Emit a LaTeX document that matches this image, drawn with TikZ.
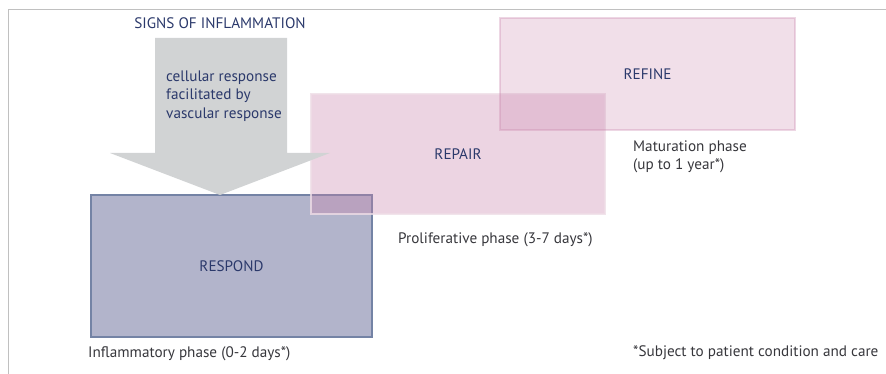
\documentclass[tikz,border=0pt]{standalone}
\usepackage{fontspec}
\setmainfont{PT Sans}
\usetikzlibrary{positioning}
\definecolor{navytext}{RGB}{43,57,107}
\definecolor{captext}{RGB}{55,55,60}
\definecolor{framegray}{RGB}{192,192,192}
\definecolor{arrowgray}{RGB}{209,211,212}
\definecolor{respondfill}{RGB}{178,180,203}
\definecolor{respondline}{RGB}{116,131,165}
\definecolor{phasepink}{RGB}{200,130,170}
\definecolor{repairline}{RGB}{238,221,230}
\tikzset{
  phasebox/.style={rectangle, inner sep=0pt, font=\fontsize{15.2}{18}\selectfont, text=navytext},
  caption/.style={inner sep=0pt, font=\fontsize{15.2}{18}\selectfont, text=captext, align=left},
}
\begin{document}
\begin{tikzpicture}[x=1pt,y=-1pt]
\useasboundingbox (0,0) rectangle (886,374);

%Frame
\draw [framegray, line width=1pt] (8,374) -- (8,10) -- (886,10);

%Shape: Rectangle RESPOND
\node [phasebox, fill=respondfill, draw=respondline, line width=2pt, minimum width=281pt, minimum height=142pt] (respond) at (231.5,266) {RESPOND};

%Shape: Rectangle REPAIR
\node [phasebox, fill=phasepink, fill opacity=0.34, text opacity=1, draw=repairline, draw opacity=0.8, line width=1.5pt, minimum width=294pt, minimum height=120pt] (repair) at (458,154) {REPAIR};

%Shape: Rectangle REFINE
\node [phasebox, fill=phasepink, fill opacity=0.26, text opacity=1, draw=phasepink, draw opacity=0.32, line width=2pt, minimum width=295pt, minimum height=112pt] (refine) at (647.5,74) {REFINE};

%Shape: Arrow
\coordinate (tip) at (220,195);
\fill [arrowgray] (155,38) -- (287,38) -- (287,153) -- (330,153) -- (tip) -- (110,153) -- (155,153) -- cycle ;

% Text Node
\node [inner sep=0pt, font=\fontsize{15.2}{18}\selectfont, text=navytext] (signs) at (220,23) {SIGNS OF INFLAMMATION};
% Text Node
\node [inner sep=0pt, font=\fontsize{15.2}{18.5}\selectfont, text=navytext, align=left, anchor=west] (cellular) at (166,96) {cellular response\\facilitated by\\vascular response};

% Text Node
\node [caption, anchor=west] (inflam) at (88,354) {Inflammatory phase (0-2 days*)};
% Text Node
\node [caption, anchor=west] (prolif) at (398,240) {Proliferative phase (3-7 days*)};
% Text Node
\node [caption, anchor=west] (matur) at (633,157) {Maturation phase\\(up to 1 year*)};
% Text Node
\node [caption, anchor=west] (note) at (633,353) {*Subject to patient condition and care};

\end{tikzpicture}
\end{document}
